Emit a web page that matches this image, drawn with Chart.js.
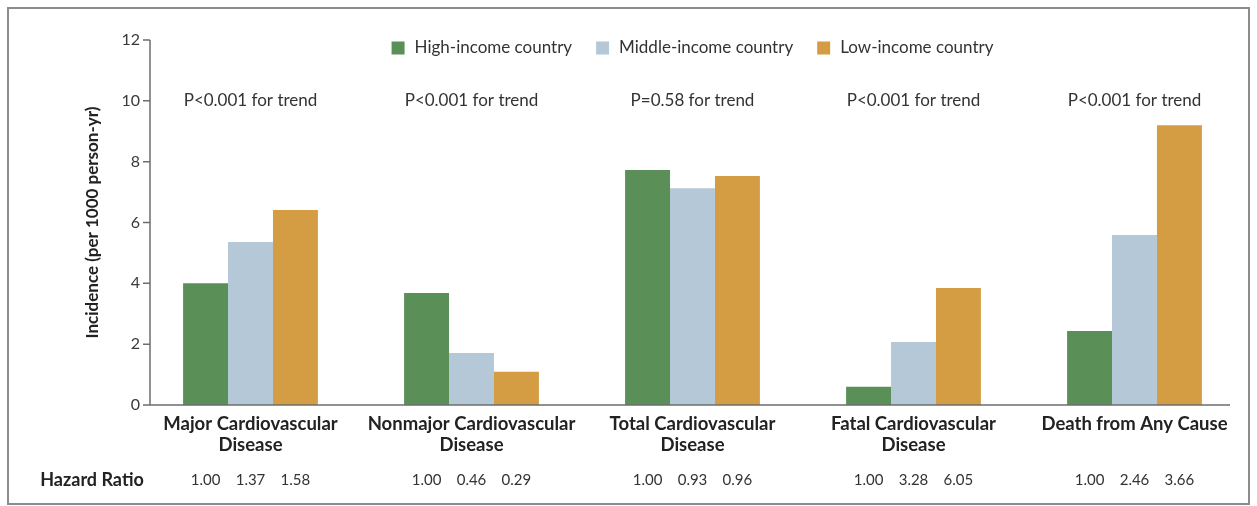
<!DOCTYPE html>
<html>
<head>
<meta charset="utf-8">
<script src="https://cdn.jsdelivr.net/npm/chart.js@4.4.1/dist/chart.umd.min.js"></script>
<style>
  html, body { margin: 0; padding: 0; background: #fff; }
  #wrap { width: 1257px; height: 506px; position: relative; }
</style>
</head>
<body>
<div id="wrap"><canvas id="chart_incidence"></canvas></div>
<script>
var categories = [
  ['Major Cardiovascular', 'Disease'],
  ['Nonmajor Cardiovascular', 'Disease'],
  ['Total Cardiovascular', 'Disease'],
  ['Fatal Cardiovascular', 'Disease'],
  'Death from Any Cause'
];
var seriesNames = ['High-income country', 'Middle-income country', 'Low-income country'];
var seriesColors = ['#5b8f58', '#b4c8d7', '#d49c43'];
var highIncome = [4.0, 3.68, 7.73, 0.60, 2.43];
var middleIncome = [5.36, 1.71, 7.13, 2.07, 5.59];
var lowIncome = [6.41, 1.09, 7.53, 3.85, 9.2];
var trendLabels = ['P<0.001 for trend', 'P<0.001 for trend', 'P=0.58 for trend', 'P<0.001 for trend', 'P<0.001 for trend'];
var hazardHigh = ['1.00', '1.00', '1.00', '1.00', '1.00'];
var hazardMiddle = ['1.37', '0.46', '0.93', '3.28', '2.46'];
var hazardLow = ['1.58', '0.29', '0.96', '6.05', '3.66'];
var hazardRows = [hazardHigh, hazardMiddle, hazardLow];
var yTitle = 'Incidence (per 1000 person-yr)';

var FONT = "Lato, 'Open Sans', sans-serif";
Chart.defaults.font.family = FONT;

var chart_incidence = new Chart(document.getElementById('chart_incidence'), {
    type: 'bar',
    data: {
        labels: categories,
        datasets: [
            { label: seriesNames[0], data: highIncome, backgroundColor: seriesColors[0], borderWidth: 0 },
            { label: seriesNames[1], data: middleIncome, backgroundColor: seriesColors[1], borderWidth: 0 },
            { label: seriesNames[2], data: lowIncome, backgroundColor: seriesColors[2], borderWidth: 0 }
        ]
    },
    options: {
        animation: false,
        responsive: true,
        maintainAspectRatio: false,
        layout: { padding: { left: 79, right: 12, top: 40, bottom: 0 } },
        datasets: { bar: { barPercentage: 1, categoryPercentage: 0.61 } },
        plugins: {
            legend: { display: false },
            tooltip: { enabled: false }
        },
        scales: {
            x: {
                grid: { display: false, drawTicks: false },
                border: { display: false },
                ticks: {
                    color: '#222',
                    font: { size: 18.5, weight: 'bold', lineHeight: 1.14 },
                    padding: 8,
                    maxRotation: 0,
                    autoSkip: false
                },
                afterFit: function(scale) { scale.height = 101; }
            },
            y: {
                min: 0,
                max: 12,
                grid: { display: false, drawTicks: false },
                border: { display: false },
                ticks: { stepSize: 2, color: '#3a3a3a', font: { size: 16 }, padding: 0 },
                afterFit: function(scale) { scale.width = 61; }
            }
        }
    },
    plugins: [{
        id: 'nejmDecor',
        beforeDraw: (chart) => {
            const ctx = chart.ctx;
            ctx.save();
            ctx.fillStyle = 'white';
            ctx.fillRect(0, 0, chart.width, chart.height);
            ctx.strokeStyle = '#8c8c8c';
            ctx.lineWidth = 2;
            ctx.strokeRect(8, 8, chart.width - 16, chart.height - 10);
            ctx.restore();
        },
        afterDraw: (chart) => {
            const ctx = chart.ctx;
            const area = chart.chartArea;
            const xs = chart.scales.x, ys = chart.scales.y;
            const axisX = area.left + 10;
            ctx.save();
            // axes
            ctx.strokeStyle = '#6e6e6e';
            ctx.lineWidth = 1.5;
            ctx.beginPath();
            ctx.moveTo(axisX, ys.getPixelForValue(12));
            ctx.lineTo(axisX, ys.getPixelForValue(0));
            ctx.lineTo(area.right - 15, ys.getPixelForValue(0));
            ys.ticks.forEach(t => {
                const py = ys.getPixelForValue(t.value);
                ctx.moveTo(axisX - 7, py);
                ctx.lineTo(axisX, py);
            });
            ctx.stroke();

            // y title
            ctx.save();
            ctx.translate(93, (area.top + area.bottom) / 2);
            ctx.rotate(-Math.PI / 2);
            ctx.fillStyle = '#222';
            ctx.font = 'bold 17px ' + FONT;
            ctx.textAlign = 'center';
            ctx.textBaseline = 'middle';
            ctx.fillText(yTitle, 0, 0);
            ctx.restore();

            // trend labels
            ctx.fillStyle = '#333';
            ctx.font = '17px ' + FONT;
            ctx.textAlign = 'center';
            ctx.textBaseline = 'middle';
            trendLabels.forEach((t, i) => {
                ctx.fillText(t, xs.getPixelForValue(i), ys.getPixelForValue(10));
            });

            // legend
            const sq = 13, gapTxt = 10, gapItem = 24;
            let widths = seriesNames.map(n => ctx.measureText(n).width);
            let total = widths.reduce((a, w) => a + sq + gapTxt + w, 0) + gapItem * (seriesNames.length - 1);
            let lx = (area.left + area.right) / 2 - total / 2;
            const ly = 48;
            ctx.textAlign = 'left';
            seriesNames.forEach((n, i) => {
                ctx.fillStyle = seriesColors[i];
                ctx.fillRect(lx, ly - sq / 2, sq, sq);
                ctx.fillStyle = '#333';
                ctx.fillText(n, lx + sq + gapTxt, ly);
                lx += sq + gapTxt + widths[i] + gapItem;
            });

            // hazard ratios
            const hy = 480;
            ctx.fillStyle = '#222';
            ctx.font = 'bold 18px ' + FONT;
            ctx.textAlign = 'center';
            ctx.fillText('Hazard Ratio', 92, hy);
            ctx.fillStyle = '#333';
            ctx.font = '15px ' + FONT;
            chart.data.datasets.forEach((ds, d) => {
                chart.getDatasetMeta(d).data.forEach((bar, i) => {
                    ctx.fillText(hazardRows[d][i], bar.x, hy);
                });
            });
            ctx.restore();
        }
    }]
});
</script>
</body>
</html>
